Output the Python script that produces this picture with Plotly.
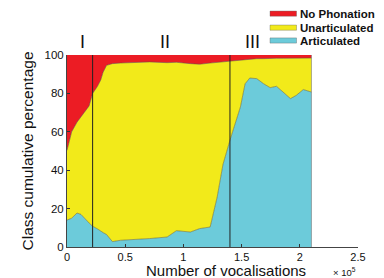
import plotly.graph_objects as go

# Number of vocalisations (x 10^5)
vocalisations = [0, 0.04, 0.086, 0.12, 0.19, 0.22, 0.26, 0.29, 0.31, 0.34, 0.39, 0.46, 0.57, 0.71,
                 0.86, 0.94, 1.06, 1.14, 1.23, 1.29, 1.34, 1.40, 1.49, 1.53, 1.57, 1.63, 1.69, 1.745,
                 1.80, 1.86, 1.92, 1.97, 2.03, 2.10]
# cumulative percentage: top of Articulated band
articulated_cum = [14, 15, 17.7, 17, 12.5, 10.8, 9.5, 8, 7.5, 6.5, 2.8, 3.5, 3.8, 4.4,
                   5.2, 8.5, 7.8, 9.6, 10.4, 26, 43, 55.6, 73, 85, 88, 87.7, 85, 83,
                   83.7, 80.7, 77.3, 79, 82, 80.7]
# cumulative percentage: top of Unarticulated band
unarticulated_cum = [50.3, 60, 65, 68, 73.5, 80, 83.5, 87, 91, 94.6, 95.5, 95.8, 96, 96.4,
                     96, 96.2, 95.5, 95.2, 95.8, 96.2, 96.5, 96.9, 97.3, 97.6, 97.8, 98.1, 98.1, 98.3,
                     98.3, 98.3, 98.4, 98.4, 98.4, 98.4]
# cumulative percentage: top of No Phonation band
total_cum = [100] * len(vocalisations)

class_names = ["No Phonation", "Unarticulated", "Articulated"]

phase_bounds = [0.22, 1.40]
phase_labels = ["I", "II", "III"]
phase_label_x = [0.13, 0.84, 1.59]

x_ticks = [0, 0.5, 1, 1.5, 2, 2.5]
y_ticks = [0, 20, 40, 60, 80, 100]

RED = "#EC1C24"
YELLOW = "#F2EA1A"
BLUE = "#6CCBDA"
EDGE = "rgba(90,90,50,0.75)"
FONT = "Liberation Sans, Arial"
class_colors = [RED, YELLOW, BLUE]

fig = go.Figure()
fig.add_trace(go.Scatter(x=vocalisations, y=articulated_cum, name=class_names[2],
                         mode="lines", fill="tozeroy", fillcolor=BLUE, showlegend=False,
                         line=dict(color=EDGE, width=0.7)))
fig.add_trace(go.Scatter(x=vocalisations, y=unarticulated_cum, name=class_names[1],
                         mode="lines", fill="tonexty", fillcolor=YELLOW, showlegend=False,
                         line=dict(color=EDGE, width=0.7)))
fig.add_trace(go.Scatter(x=vocalisations, y=total_cum, name=class_names[0],
                         mode="lines", fill="tonexty", fillcolor=RED, showlegend=False,
                         line=dict(color=RED, width=0.5)))
# right edge of data
fig.add_trace(go.Scatter(x=[vocalisations[-1], vocalisations[-1]], y=[0, 100], mode="lines",
                         line=dict(color="rgba(120,120,120,0.6)", width=1), showlegend=False,
                         hoverinfo="skip"))
for b in phase_bounds:
    fig.add_trace(go.Scatter(x=[b, b], y=[0, 100], mode="lines",
                             line=dict(color="#222222", width=1), showlegend=False,
                             hoverinfo="skip"))

for lab, xx in zip(phase_labels, phase_label_x):
    fig.add_annotation(x=xx, y=1.069, xref="x", yref="paper", text=lab, showarrow=False,
                       yanchor="middle",
                       font=dict(size=18, color="#111111", family=FONT))

# legend drawn as swatches + labels
sw_top = [1.229, 1.156, 1.089]
for name, col, top in zip(class_names, class_colors, sw_top):
    fig.add_shape(type="rect", xref="paper", yref="paper", x0=0.6976, x1=0.7887,
                  y0=top - 0.027, y1=top, fillcolor=col,
                  line=dict(color="rgba(90,90,90,0.6)", width=0.6))
    fig.add_annotation(x=0.7938, y=top - 0.0135, xref="paper", yref="paper",
                       text="<b>" + name + "</b>", showarrow=False, xanchor="left",
                       yanchor="middle", font=dict(size=11.5, color="#111111", family=FONT))

fig.add_annotation(x=0.546, y=-0.122, xref="paper", yref="paper", text="Number of vocalisations",
                   showarrow=False, xanchor="center", yanchor="middle",
                   font=dict(size=15, color="#111111", family=FONT))
fig.add_annotation(x=0.955, y=-0.128, xref="paper", yref="paper", text="× 10<sup>5</sup>",
                   showarrow=False, xanchor="center", yanchor="middle",
                   font=dict(size=9.5, color="#111111", family=FONT))

fig.update_layout(
    width=376, height=270,
    margin=dict(l=59, r=26, t=47, b=31, autoexpand=False),
    paper_bgcolor="white", plot_bgcolor="white",
    font=dict(family=FONT, size=11, color="#111111"),
    showlegend=False,
    xaxis=dict(range=[0, 2.5], tickvals=x_ticks, ticktext=[str(t) for t in x_ticks],
               ticks="inside", ticklen=3, tickcolor="#333333", showline=True,
               linecolor="#444444", linewidth=1, showgrid=False, zeroline=False,
               tickfont=dict(size=11), automargin=False),
    yaxis=dict(range=[0, 100], tickvals=y_ticks, ticks="inside", ticklen=3,
               tickcolor="#333333", showline=True, linecolor="#444444", linewidth=1,
               showgrid=False, zeroline=False, tickfont=dict(size=11.5), automargin=False,
               title=dict(text="Class cumulative percentage", font=dict(size=15.5), standoff=7)),
)
fig.write_html("out.html")
